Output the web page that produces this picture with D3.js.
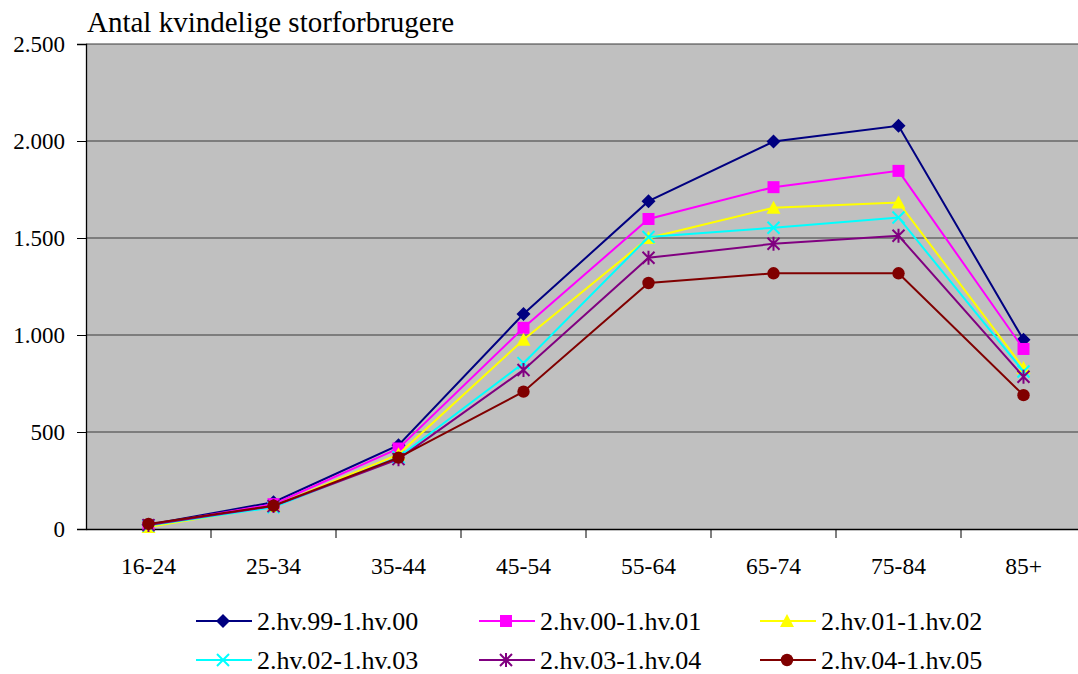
<!DOCTYPE html>
<html>
<head>
<meta charset="utf-8">
<script src="https://cdn.jsdelivr.net/npm/d3@7"></script>
<style>
  body { margin: 0; background: #fff; }
  svg text { font-family: "Liberation Serif", "Times New Roman", serif; fill: #000; }
</style>
</head>
<body>
<div id="chart"></div>
<script>
// Antal kvindelige storforbrugere, by age group

const ageGroups = ["16-24", "25-34", "35-44", "45-54", "55-64", "65-74", "75-84", "85+"];
const seriesNames = ["2.hv.99-1.hv.00", "2.hv.00-1.hv.01", "2.hv.01-1.hv.02",
                     "2.hv.02-1.hv.03", "2.hv.03-1.hv.04", "2.hv.04-1.hv.05"];
const s9900 = [22, 138, 432, 1108, 1690, 1997, 2078, 975];
const s0001 = [20, 128, 415, 1037, 1598, 1762, 1846, 928];
const s0102 = [10, 118, 385, 976, 1500, 1656, 1683, 830];
const s0203 = [18, 112, 370, 855, 1505, 1553, 1606, 812];
const s0304 = [20, 118, 360, 820, 1398, 1470, 1512, 785];
const s0405 = [26, 120, 368, 708, 1268, 1318, 1318, 690];
const yTicks = [0, 500, 1000, 1500, 2000, 2500];

const seriesValues = [s9900, s0001, s0102, s0203, s0304, s0405];
const colors = ["#000080", "#FF00FF", "#FFFF00", "#00FFFF", "#800080", "#800000"];
const symbols = ["diamond", "square", "triangle", "cross", "star", "circle"];

const width = 1078, height = 674;
const plot = { left: 86, top: 44, right: 1086, bottom: 529 };

const svg = d3.select("#chart").append("svg")
    .attr("width", width)
    .attr("height", height);

const x = d3.scaleBand().domain(ageGroups).range([plot.left, plot.right]);
const y = d3.scaleLinear().domain([0, 2500]).range([plot.bottom, plot.top]);
const fmt = d => d3.format(",")(d).replace(/,/g, ".");

// plot background
svg.append("rect")
    .attr("x", plot.left).attr("y", plot.top)
    .attr("width", plot.right - plot.left).attr("height", plot.bottom - plot.top)
    .attr("fill", "#C0C0C0");

// gridlines
svg.selectAll(".grid")
    .data(yTicks.filter(d => d > 0))
    .enter().append("line")
    .attr("x1", plot.left).attr("x2", plot.right)
    .attr("y1", d => y(d)).attr("y2", d => y(d))
    .attr("stroke", "#3a3a3a").attr("stroke-width", 1.2);

// y axis
const yAxis = svg.append("g")
    .attr("transform", `translate(${plot.left},0)`)
    .call(d3.axisLeft(y).tickValues(yTicks).tickFormat(fmt).tickSize(9).tickPadding(12));
yAxis.select(".domain").attr("stroke", "#000").attr("stroke-width", 1.3);
yAxis.selectAll(".tick line").attr("stroke", "#000");
yAxis.selectAll("text").style("font-size", "23px").attr("fill", "#000")
    .style("font-family", "'Liberation Serif', serif");

// x axis with ticks at category boundaries
const xAxis = svg.append("g")
    .attr("transform", `translate(0,${plot.bottom})`)
    .call(d3.axisBottom(x).tickSize(0).tickPadding(28));
xAxis.select(".domain").attr("stroke", "#000").attr("stroke-width", 1.3);
xAxis.selectAll("text").style("font-size", "23.5px").attr("fill", "#000")
    .style("font-family", "'Liberation Serif', serif");
xAxis.selectAll(".boundary")
    .data(ageGroups)
    .enter().append("line")
    .attr("x1", d => x(d) + x.bandwidth()).attr("x2", d => x(d) + x.bandwidth())
    .attr("y1", 0).attr("y2", 9)
    .attr("stroke", "#000");

// title
svg.append("text")
    .attr("x", 87).attr("y", 32)
    .style("font-size", "29px")
    .text("Antal kvindelige storforbrugere");

function drawMarker(g, type, color, cx, cy) {
    if (type === "diamond") {
        g.append("path").attr("d", `M${cx},${cy - 7}L${cx + 7},${cy}L${cx},${cy + 7}L${cx - 7},${cy}Z`)
            .attr("fill", color);
    } else if (type === "square") {
        g.append("rect").attr("x", cx - 6).attr("y", cy - 6).attr("width", 12).attr("height", 12)
            .attr("fill", color);
    } else if (type === "triangle") {
        g.append("path").attr("d", `M${cx},${cy - 7}L${cx + 7},${cy + 6}L${cx - 7},${cy + 6}Z`)
            .attr("fill", color);
    } else if (type === "cross") {
        g.append("path").attr("d", `M${cx - 6},${cy - 6}L${cx + 6},${cy + 6}M${cx - 6},${cy + 6}L${cx + 6},${cy - 6}`)
            .attr("stroke", color).attr("stroke-width", 2).attr("fill", "none");
    } else if (type === "star") {
        g.append("path").attr("d", `M${cx - 6},${cy - 6}L${cx + 6},${cy + 6}M${cx - 6},${cy + 6}L${cx + 6},${cy - 6}M${cx},${cy - 7}L${cx},${cy + 7}`)
            .attr("stroke", color).attr("stroke-width", 2).attr("fill", "none");
    } else {
        g.append("circle").attr("cx", cx).attr("cy", cy).attr("r", 6.2).attr("fill", color);
    }
}

const line = d3.line()
    .x((d, i) => x(ageGroups[i]) + x.bandwidth() / 2)
    .y(d => y(d));

// series
seriesValues.forEach((vals, si) => {
    const g = svg.append("g");
    g.append("path")
        .datum(vals)
        .attr("d", line)
        .attr("fill", "none")
        .attr("stroke", colors[si])
        .attr("stroke-width", 2);
    vals.forEach((v, i) => {
        drawMarker(g, symbols[si], colors[si], x(ageGroups[i]) + x.bandwidth() / 2, y(v));
    });
});

// legend
const legendCols = [196, 479, 760];
const legendRows = [621, 660];
seriesNames.forEach((name, i) => {
    const lx = legendCols[i % 3], ly = legendRows[Math.floor(i / 3)];
    const g = svg.append("g");
    g.append("line")
        .attr("x1", lx).attr("x2", lx + 56)
        .attr("y1", ly).attr("y2", ly)
        .attr("stroke", colors[i]).attr("stroke-width", 2);
    drawMarker(g, symbols[i], colors[i], lx + 27, ly);
    g.append("text")
        .attr("x", lx + 61).attr("y", ly)
        .attr("dy", "0.35em")
        .style("font-size", "26px")
        .text(name);
});
</script>
</body>
</html>
